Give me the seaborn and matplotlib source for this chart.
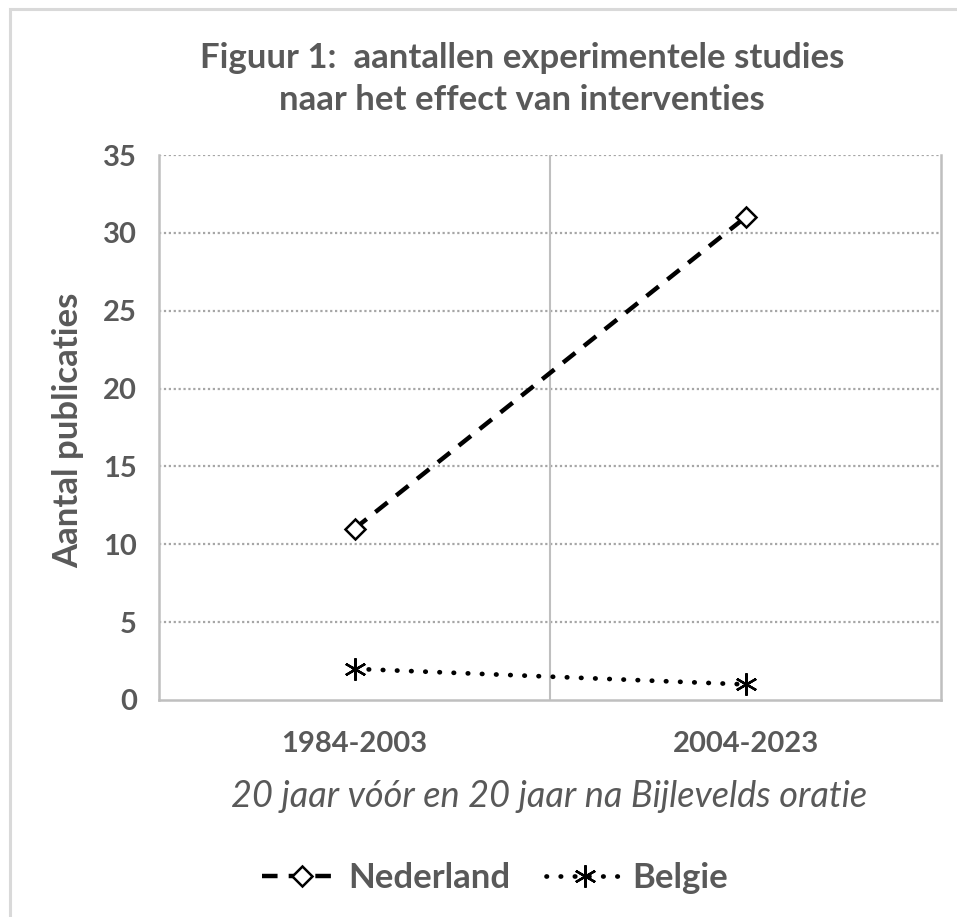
import matplotlib
matplotlib.use("Agg")
import matplotlib.pyplot as plt
import seaborn as sns
import pandas as pd
from matplotlib.lines import Line2D
from matplotlib.patches import Rectangle

categories = ["1984-2003", "2004-2023"]
nederland = [11, 31]
belgie = [2, 1]
yticks = [0, 5, 10, 15, 20, 25, 30, 35]

title = "Figuur 1:  aantallen experimentele studies\nnaar het effect van interventies"
ylabel = "Aantal publicaties"
xlabel = "20 jaar vóór en 20 jaar na Bijlevelds oratie"

sns.set_theme(style="white")
plt.rcParams["font.family"] = ["Lato", "DejaVu Sans"]

GRAY = "#595959"
GRID = "#BFBFBF"

fig = plt.figure(figsize=(9.57, 9.17), dpi=100)
ax = fig.add_axes([159/957, 1-700/917, (941-159)/957, (700-155)/917])

df_nl = pd.DataFrame({"periode": categories, "n": nederland})
df_be = pd.DataFrame({"periode": categories, "n": belgie})

NL_STYLE = dict(color="black", lw=3.2, linestyle=(0, (3.5, 2.5)), marker="D", markersize=10,
                markerfacecolor="white", markeredgecolor="black", markeredgewidth=1.8)
BE_STYLE = dict(color="black", lw=3.4, linestyle=(0, (0.1, 2.9)), dash_capstyle="round",
                marker=(6, 2, 0), markersize=16, markeredgecolor="black", markeredgewidth=1.7)

sns.lineplot(data=df_nl, x="periode", y="n", ax=ax, **NL_STYLE)
sns.lineplot(data=df_be, x="periode", y="n", ax=ax, **BE_STYLE)
ax.lines[1].set_dash_capstyle("round")

ax.set_xlim(-0.5, 1.5)
ax.set_ylim(0, 35)
ax.set_yticks(yticks)
ax.set_yticklabels([str(v) for v in yticks])
ax.tick_params(axis="both", length=0, labelsize=21, labelcolor=GRAY)
ax.tick_params(axis="y", pad=16)
ax.tick_params(axis="x", pad=22)
for lab in ax.get_xticklabels() + ax.get_yticklabels():
    lab.set_fontweight("bold")

for v in yticks[1:]:
    ax.axhline(v, color="#A6A6A6", lw=1.6, linestyle=(0, (1, 1.2)), zorder=0)
ax.axvline(0.5, color=GRID, lw=1.5, zorder=0)

for s in ["left", "right", "bottom"]:
    ax.spines[s].set_color(GRID)
    ax.spines[s].set_linewidth(1.8)
ax.spines["top"].set_visible(False)

ax.set_ylabel(ylabel, fontsize=25, fontweight="bold", color=GRAY)
ax.yaxis.set_label_coords((84-159)/(941-159), (700-430)/(700-155))
ax.set_xlabel(xlabel, fontsize=26, style="italic", color=GRAY)
ax.xaxis.set_label_coords((549-159)/(941-159), -(780-700)/(700-155))

fig.text(522/957, 1-79/917, title, ha="center", va="center", fontsize=25,
         fontweight="bold", color=GRAY, linespacing=1.4)

h1 = Line2D([], [], **NL_STYLE)
h2 = Line2D([], [], **BE_STYLE)
leg = fig.legend([h1, h2], ["Nederland", "Belgie"], loc="center",
                 bbox_to_anchor=(495/957, 1-878/917), ncol=2, frameon=False,
                 handlelength=2.3, columnspacing=1.0, handletextpad=0.2,
                 prop={"size": 25, "weight": "bold"})
for t in leg.get_texts():
    t.set_color(GRAY)

fig.add_artist(Rectangle((9.5/957, -0.1), 1.2, 1.1 - 8.5/917, transform=fig.transFigure,
                         fill=False, edgecolor="#D9D9D9", lw=2.2))

fig.savefig("out.png", dpi=100, facecolor="white")
